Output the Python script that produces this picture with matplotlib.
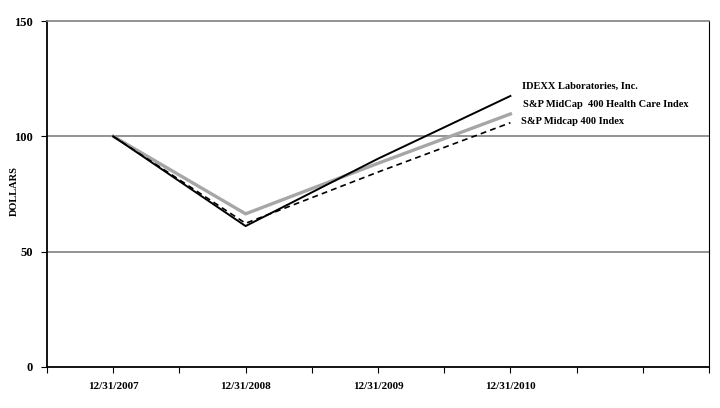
import matplotlib
matplotlib.use("Agg")
import matplotlib.pyplot as plt

dates = ["12/31/2007", "12/31/2008", "12/31/2009", "12/31/2010"]
idexx = [100, 61.1, 90.3, 117.5]
health_care = [100, 66.4, 88.3, 109.7]
midcap = [100, 62.3, 84.5, 105.9]
series_names = ["IDEXX Laboratories, Inc.", "S&P MidCap  400 Health Care Index", "S&P Midcap 400 Index"]
y_ticks = [0, 50, 100, 150]

serif = ["Liberation Serif", "DejaVu Serif"]

fig = plt.figure(figsize=(7.2, 4.08), dpi=100)
ax = fig.add_axes([0.0653, 0.1005, 0.9194, 0.848])

x = list(range(len(dates)))
ax.plot(x, health_care, color="#a6a6a6", lw=2.4, zorder=3)
ax.plot(x, midcap, color="black", lw=1.2, ls=(0, (3.5, 2.5)), zorder=4)
ax.plot(x, idexx, color="black", lw=1.4, zorder=5)

ax.set_xlim(-0.5, 4.5)
ax.set_ylim(0, 150)

for yv in [50, 100]:
    ax.axhline(yv, color="#808080", lw=1.2, zorder=1)

ax.set_yticks(y_ticks)
ax.set_yticklabels([str(v) for v in y_ticks], fontfamily=serif, fontweight="bold", fontsize=9)
major = [i * 0.5 - 0.5 for i in range(11)]
ax.set_xticks(major)
labels = []
for m in major:
    if abs(m - round(m)) < 1e-9 and 0 <= round(m) < len(dates):
        labels.append(dates[int(round(m))])
    else:
        labels.append("")
ax.set_xticklabels(labels, fontfamily=serif, fontweight="bold", fontsize=8)
ax.tick_params(axis="x", length=4, width=0.8, pad=7, color="black")
ax.tick_params(axis="y", length=4, width=0.8, pad=6, color="black")

ax.set_ylabel("DOLLARS", fontfamily=serif, fontweight="bold", fontsize=7.5)
ax.yaxis.set_label_coords(-0.042, 0.51)

for s in ["left", "bottom"]:
    ax.spines[s].set_color("black")
    ax.spines[s].set_linewidth(1.3)
ax.spines["right"].set_color("black")
ax.spines["right"].set_linewidth(0.8)
ax.spines["top"].set_color("#808080")
ax.spines["top"].set_linewidth(1.2)

label_pos = [(0.7175, 0.812), (0.719, 0.760), (0.716, 0.711)]
for name, (tx, ty) in zip(series_names, label_pos):
    ax.text(tx, ty, name, transform=ax.transAxes, fontfamily=serif, fontweight="bold",
            fontsize=7.5, va="center", ha="left")

fig.savefig("out.png", dpi=100)
